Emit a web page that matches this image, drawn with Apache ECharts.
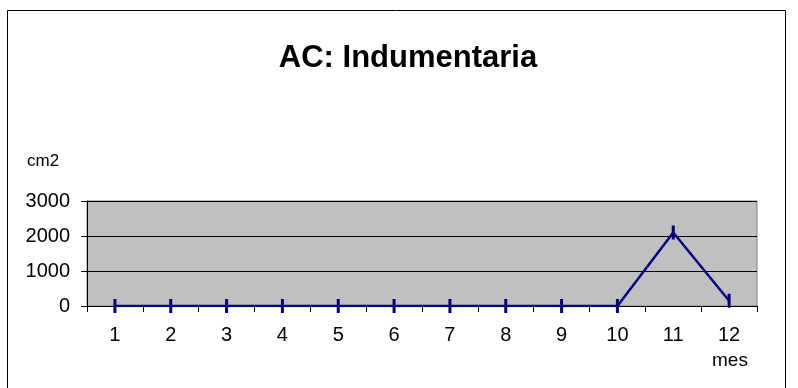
<!DOCTYPE html>
<html><head><meta charset="utf-8">
<script src="https://cdn.jsdelivr.net/npm/echarts@6/dist/echarts.min.js"></script>
<style>html,body{margin:0;padding:0;background:#fff}#c{width:798px;height:388px}</style>
</head><body><div id="c"></div>
<script>
const months = ['1','2','3','4','5','6','7','8','9','10','11','12'];
const values = [0,0,0,0,0,0,0,0,0,0,2100,150];
const yTicks = ['0','1000','2000','3000'];
const chart = echarts.init(document.getElementById('c'));
const F = 'Liberation Sans, Arial, sans-serif';
chart.setOption({
  animation:false,
  title:{text:'AC: Indumentaria',left:403,textAlign:'center',top:38,textStyle:{fontFamily:F,fontSize:31,fontWeight:'bold',color:'#000'}},
  graphic:[
    {type:'rect',shape:{x:7.5,y:10.5,width:778,height:400},style:{fill:'none',stroke:'#000',lineWidth:1}},
    {type:'text',left:27,top:153,style:{text:'cm2',font:'17px '+F,fill:'#000'}},
    {type:'text',left:712,top:351,style:{text:'mes',font:'19px '+F,fill:'#000'}}
  ],
  grid:{left:87,top:201,width:670,height:105,show:true,backgroundColor:'#C0C0C0',borderColor:'#808080',borderWidth:1},
  xAxis:{type:'category',data:months,boundaryGap:true,
    axisLine:{lineStyle:{color:'#000',width:1}},
    axisTick:{show:true,length:6,inside:false,lineStyle:{color:'#000'}},
    axisLabel:{fontFamily:F,fontSize:20,color:'#000',margin:19}},
  yAxis:{type:'value',min:0,max:3000,interval:1000,
    axisLine:{show:true,lineStyle:{color:'#000'}},
    axisTick:{show:true,length:6,lineStyle:{color:'#000'}},
    splitLine:{lineStyle:{color:'#000',width:1}},
    axisLabel:{fontFamily:F,fontSize:20,color:'#000',margin:17,formatter:(v)=>yTicks[Math.round(v/1000)]}},
  series:[{type:'line',data:values,symbol:'rect',symbolSize:[3,14],showAllSymbol:true,
    lineStyle:{color:'#000080',width:2.5},itemStyle:{color:'#000080'}}]
});
</script></body></html>
